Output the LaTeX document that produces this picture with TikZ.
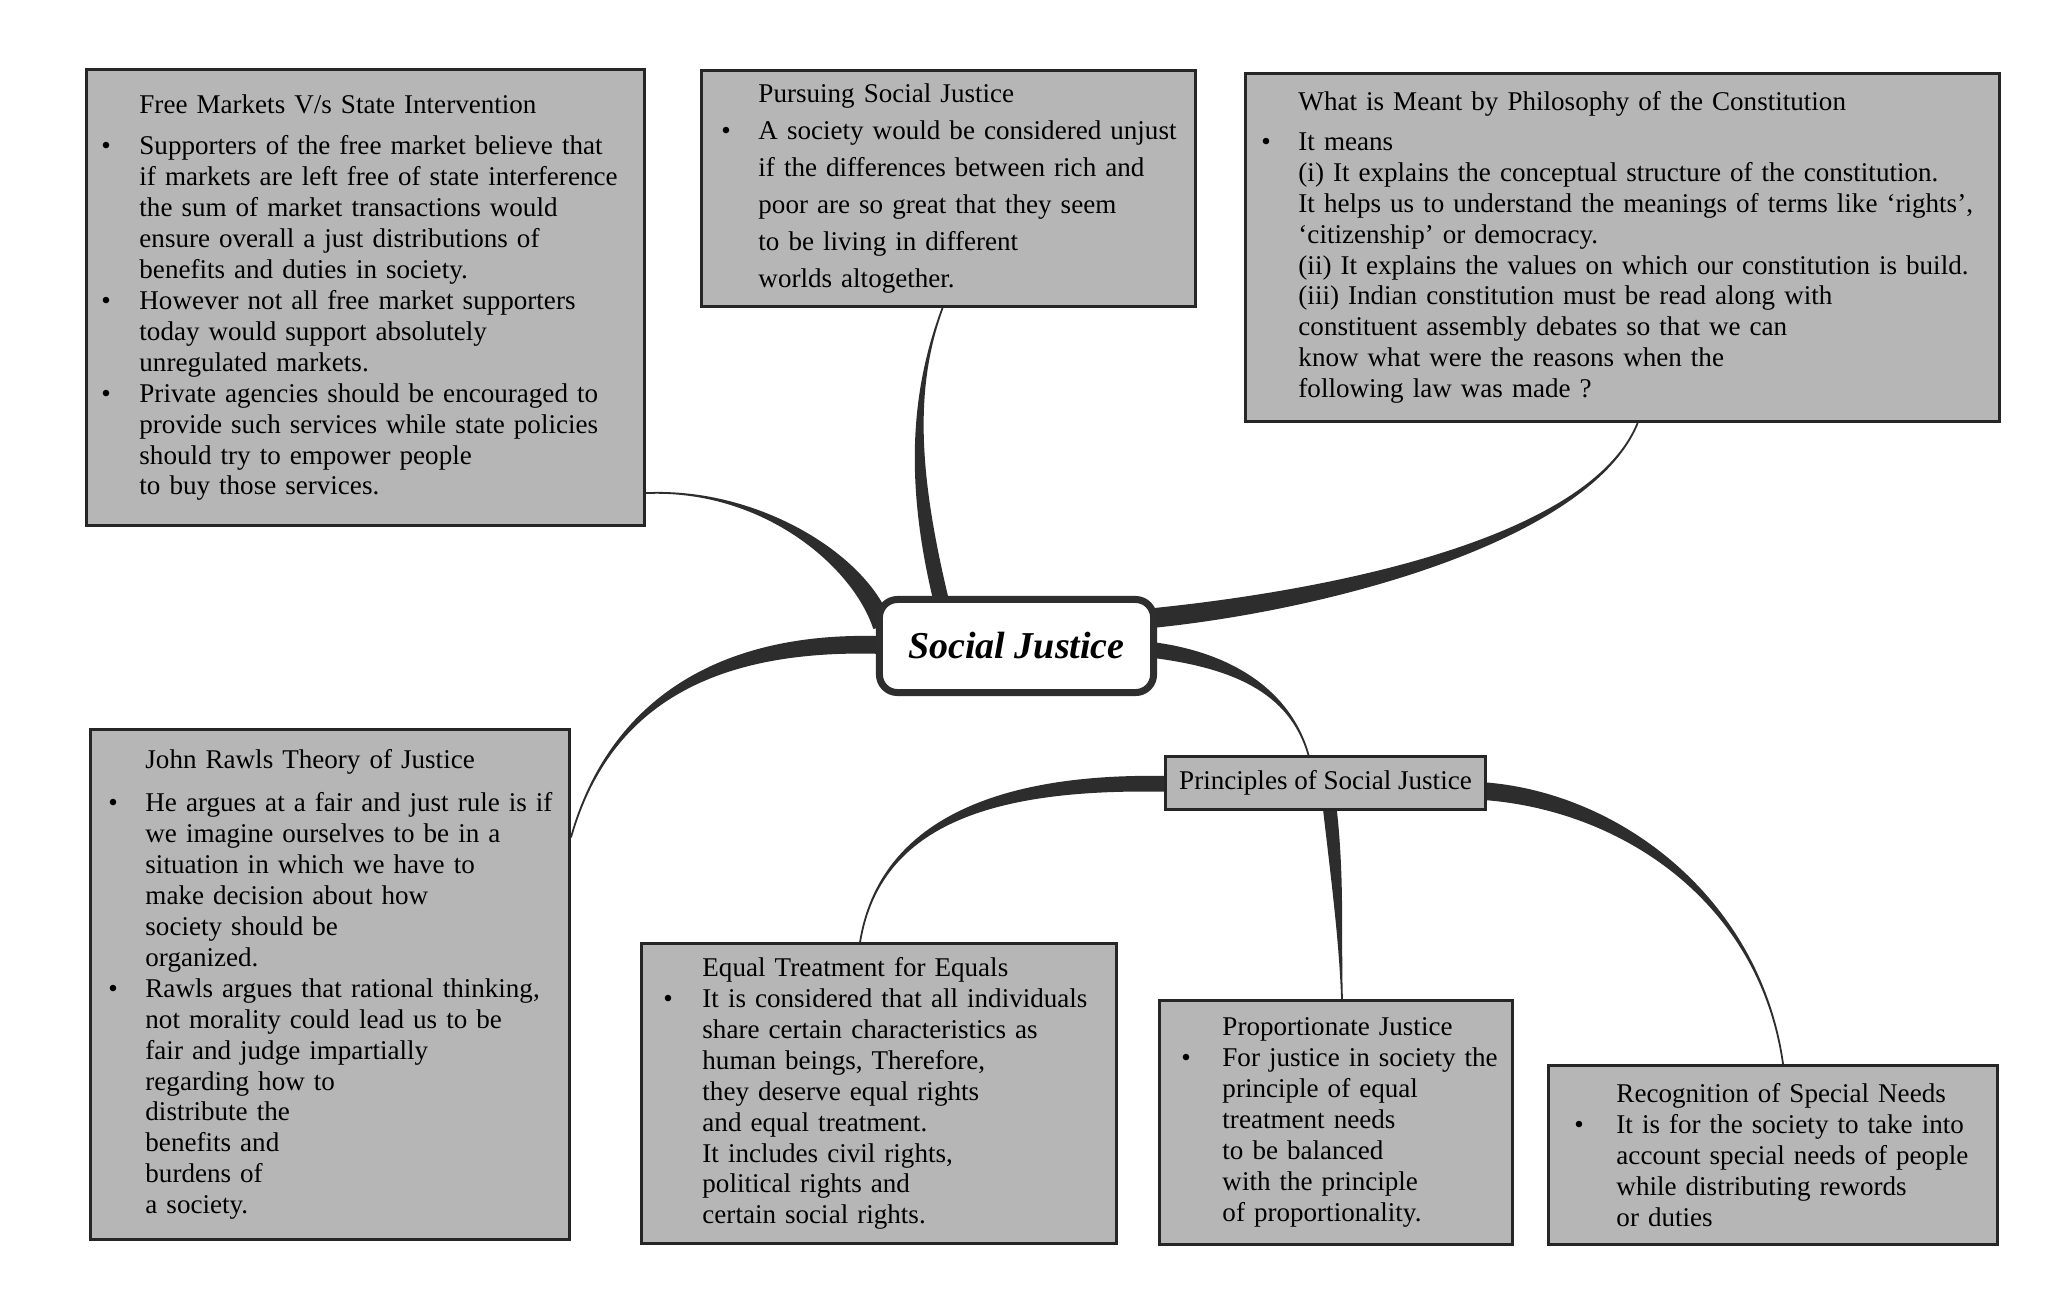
\documentclass[tikz,border=0pt]{standalone}
\usepackage{fontspec}
\setmainfont{Liberation Serif}
\usetikzlibrary{calc,backgrounds}

\definecolor{boxgray}{RGB}{182,182,182}
\definecolor{limbcol}{RGB}{45,45,45}

\newlength{\bulx}
\newlength{\txtx}
\newcommand{\bul}{\makebox[\txtx][l]{\hspace*{\bulx}\textbullet}}
\newcommand{\ind}{\hspace*{\txtx}}
% tapered branch: thick end, control 1, control 2, thin end, half width
\newcommand{\branch}[5]{%
  \fill[limb] ($(#1)+(#5)$) .. controls ($(#2)+(#5)$) and (#3) .. (#4)
    .. controls (#3) and ($(#2)-(#5)$) .. ($(#1)-(#5)$) -- cycle;}

\begin{document}
\begin{tikzpicture}[x=0.01cm, y=-0.01cm]
    % Define block styles
    \tikzstyle{block} = [rectangle, draw=black!85, line width=0.8pt, fill=boxgray, anchor=north west, inner sep=0pt, align=left, font=\fontsize{7.7}{8.8}\selectfont]
    \tikzstyle{hub} = [rectangle, rounded corners=0.18cm, draw=black!82, line width=0.07cm, fill=white, minimum width=2.74cm, minimum height=0.93cm, font=\fontsize{10.8}{13}\selectfont\bfseries\itshape]
    \tikzstyle{limb} = [fill=limbcol, draw=limbcol, line width=0.5pt, line join=round]
    \tikzset{margins/.style 2 args={execute at begin node={\setlength{\bulx}{#1}\setlength{\txtx}{#2}}}}

    \useasboundingbox (0,0) rectangle (2052,1302);

    % Nodes
    \node [hub] (sj) at (1016.5,646) {Social Justice};

    \node [block, margins={0.15cm}{0.53cm}, text width=5.58cm, minimum height=4.56cm] (fm) at (85,68) {%
      \ind Free Markets V/s State Intervention\\[3pt]
      \bul Supporters of the free market believe that\\
      \ind if markets are left free of state interference\\
      \ind the sum of market transactions would\\
      \ind ensure overall a just distributions of\\
      \ind benefits and duties in society.\\
      \bul However not all free market supporters\\
      \ind today would support absolutely\\
      \ind unregulated markets.\\
      \bul Private agencies should be encouraged to\\
      \ind provide such services while state policies\\
      \ind should try to empower people\\
      \ind to buy those services.};

    \node [block, margins={0.20cm}{0.57cm}, text width=4.94cm, minimum height=2.36cm, font=\fontsize{7.7}{10.5}\selectfont] (psj) at (700,69) {%
      \ind Pursuing Social Justice\\
      \bul A society would be considered unjust\\
      \ind if the differences between rich and\\
      \ind poor are so great that they seem\\
      \ind to be living in different\\
      \ind worlds altogether.};

    \node [block, margins={0.16cm}{0.53cm}, text width=7.54cm, minimum height=3.48cm] (phil) at (1244,72) {%
      \ind What is Meant by Philosophy of the Constitution\\[2.5pt]
      \bul It means\\
      \ind (i) It explains the conceptual structure of the constitution.\\
      \ind It helps us to understand the meanings of terms like `rights',\\
      \ind `citizenship' or democracy.\\
      \ind (ii) It explains the values on which our constitution is build.\\
      \ind (iii) Indian constitution must be read along with\\
      \ind constituent assembly debates so that we can\\
      \ind know what were the reasons when the\\
      \ind following law was made ?};

    \node [block, margins={0.18cm}{0.55cm}, text width=4.79cm, minimum height=5.10cm] (jr) at (89,728) {%
      \ind John Rawls Theory of Justice\\[3.4pt]
      \bul He argues at a fair and just rule is if\\
      \ind we imagine ourselves to be in a\\
      \ind situation in which we have to\\
      \ind make decision about how\\
      \ind society should be\\
      \ind organized.\\
      \bul Rawls argues that rational thinking,\\
      \ind not morality could lead us to be\\
      \ind fair and judge impartially\\
      \ind regarding how to\\
      \ind distribute the\\
      \ind benefits and\\
      \ind burdens of\\
      \ind a society.};

    \node [block, align=center, minimum width=3.20cm, minimum height=0.53cm] (pr) at (1164,755) {Principles of Social Justice};

    \node [block, margins={0.22cm}{0.61cm}, text width=4.75cm, minimum height=3.00cm] (eq) at (640,942) {%
      \ind Equal Treatment for Equals\\
      \bul It is considered that all individuals\\
      \ind share certain characteristics as\\
      \ind human beings, Therefore,\\
      \ind they deserve equal rights\\
      \ind and equal treatment.\\
      \ind It includes civil rights,\\
      \ind political rights and\\
      \ind certain social rights.};

    \node [block, margins={0.22cm}{0.63cm}, text width=3.53cm, minimum height=2.44cm] (prop) at (1158,999) {%
      \ind Proportionate Justice\\
      \bul For justice in society the\\
      \ind principle of equal\\
      \ind treatment needs\\
      \ind to be balanced\\
      \ind with the principle\\
      \ind of proportionality.};

    \node [block, margins={0.26cm}{0.68cm}, text width=4.49cm, minimum height=1.79cm] (rec) at (1547,1064) {%
      \ind Recognition of Special Needs\\
      \bul It is for the society to take into\\
      \ind account special needs of people\\
      \ind while distributing rewords\\
      \ind or duties};

    % Branch ends
    \coordinate (k1) at ($(sj.west)+(6,-21)$);
    \coordinate (t1) at ($(fm.south east)+(0,-34)$);
    \coordinate (k2) at ($(sj.north)+(-75,6)$);
    \coordinate (t2) at ($(psj.south)+(-6,0)$);
    \coordinate (k3) at ($(sj.east)+(-4,-28)$);
    \coordinate (t3) at ($(phil.south)+(15,0)$);
    \coordinate (k4) at ($(sj.west)+(5,-1)$);
    \coordinate (t4) at ($(jr.north east)+(0,109)$);
    \coordinate (k5) at ($(sj.east)+(-4,4)$);
    \coordinate (t5) at ($(pr.north)+(-17,0)$);
    \coordinate (k6) at ($(pr.west)+(6,1)$);
    \coordinate (t6) at ($(eq.north)+(-19,0)$);
    \coordinate (k7) at ($(pr.south)+(4,-5)$);
    \coordinate (t7) at ($(prop.north)+(6,0)$);
    \coordinate (k8) at ($(pr.east)+(-6,8)$);
    \coordinate (t8) at ($(rec.north)+(10,0)$);

    % Branches
    \begin{scope}[on background layer]
      \fill[white] (0,0) rectangle (2052,1302);
      \branch{k1}{860,560}{760,488}{t1}{8,-3}
      \branch{k2}{912,480}{912,390}{t2}{7,0}
      \branch{k3}{1330,600}{1590,540}{t3}{0,9}
      \branch{k4}{720,640}{610,700}{t4}{0,8}
      \branch{k5}{1230,660}{1290,690}{t5}{0,7}
      \branch{k6}{1000,780}{880,820}{t6}{0,7}
      \branch{k7}{1338,880}{1340,940}{t7}{6,0}
      \branch{k8}{1620,800}{1760,900}{t8}{0,8}
    \end{scope}

\end{tikzpicture}
\end{document}
